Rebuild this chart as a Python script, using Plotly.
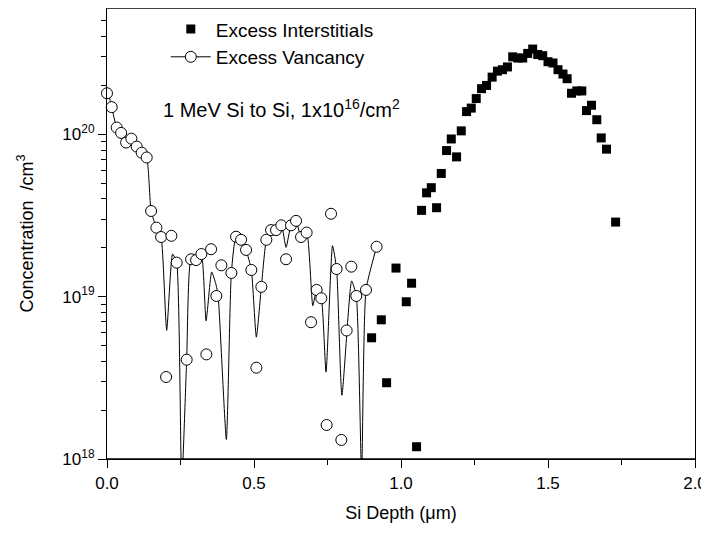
import plotly.graph_objects as go

# Excess vacancy measured points (depth um, concentration cm^-3)
vac_x = [0.000, 0.016, 0.033, 0.048, 0.065, 0.083, 0.101, 0.118, 0.135, 0.150,
         0.168, 0.184, 0.201, 0.219, 0.237, 0.271, 0.286, 0.303, 0.321, 0.338,
         0.354, 0.372, 0.389, 0.423, 0.439, 0.456, 0.473, 0.491, 0.508, 0.525,
         0.542, 0.558, 0.575, 0.593, 0.609, 0.626, 0.643, 0.660, 0.679, 0.694,
         0.713, 0.729, 0.747, 0.762, 0.781, 0.797, 0.815, 0.831, 0.848, 0.881,
         0.917]
vac_y = [1.79e20, 1.47e20, 1.10e20, 1.02e20, 8.9e19, 9.4e19, 8.4e19, 7.7e19, 7.2e19, 3.37e19,
         2.66e19, 2.33e19, 3.2e18, 2.37e19, 1.62e19, 4.09e18, 1.70e19, 1.68e19, 1.83e19, 4.41e18,
         1.96e19, 1.01e19, 1.56e19, 1.40e19, 2.34e19, 2.24e19, 1.94e19, 1.46e19, 3.65e18, 1.15e19,
         2.24e19, 2.57e19, 2.57e19, 2.75e19, 1.70e19, 2.75e19, 2.93e19, 2.33e19, 2.48e19, 6.96e18,
         1.10e19, 9.77e18, 1.62e18, 3.24e19, 1.48e19, 1.31e18, 6.19e18, 1.53e19, 1.01e19, 1.10e19,
         2.03e19]

# Excess vacancy fitted curve
fit_x = [0.000, 0.016, 0.033, 0.048, 0.065, 0.083, 0.101, 0.118, 0.135, 0.150,
         0.168, 0.184, 0.203, 0.223, 0.237, 0.254, 0.271, 0.286, 0.303, 0.321,
         0.337, 0.356, 0.370, 0.378, 0.406, 0.423, 0.439, 0.456, 0.473, 0.491,
         0.508, 0.525, 0.542, 0.558, 0.575, 0.593, 0.609, 0.626, 0.643, 0.660,
         0.679, 0.700, 0.713, 0.729, 0.745, 0.767, 0.781, 0.799, 0.832, 0.848,
         0.866, 0.881, 0.917]
fit_y = [1.95e20, 1.47e20, 1.10e20, 1.02e20, 8.9e19, 9.4e19, 8.4e19, 7.7e19, 7.2e19, 3.37e19,
         2.66e19, 2.33e19, 6.2e18, 1.83e19, 1.62e19, 7.0e17, 4.09e18, 1.70e19, 1.68e19, 1.83e19,
         7.1e18, 1.42e19, 1.2e19, 1.01e19, 1.32e18, 1.40e19, 2.34e19, 2.24e19, 1.94e19, 1.46e19,
         5.63e18, 1.15e19, 2.24e19, 2.57e19, 2.57e19, 2.75e19, 2.01e19, 2.75e19, 2.93e19, 2.33e19,
         2.48e19, 8.8e18, 1.10e19, 9.77e18, 3.43e18, 2.06e19, 1.48e19, 2.47e18, 1.25e19, 1.01e19,
         8.0e17, 1.10e19, 2.03e19]

# Excess interstitials
int_x = [0.900, 0.933, 0.951, 0.983, 1.018, 1.036, 1.053, 1.070, 1.087, 1.103,
         1.121, 1.137, 1.155, 1.171, 1.189, 1.205, 1.223, 1.239, 1.256, 1.274,
         1.291, 1.310, 1.328, 1.345, 1.362, 1.380, 1.397, 1.414, 1.431, 1.448,
         1.465, 1.482, 1.500, 1.517, 1.534, 1.551, 1.565, 1.580, 1.598, 1.615,
         1.631, 1.648, 1.666, 1.681, 1.699, 1.730]
int_y = [5.58e18, 7.2e18, 2.95e18, 1.5e19, 9.3e18, 1.21e19, 1.19e18, 3.40e19, 4.36e19, 4.69e19,
         3.53e19, 5.74e19, 7.94e19, 9.36e19, 7.26e19, 1.05e20, 1.38e20, 1.45e20, 1.66e20, 1.91e20,
         2.0e20, 2.25e20, 2.45e20, 2.5e20, 2.6e20, 3.0e20, 2.95e20, 2.95e20, 3.15e20, 3.35e20,
         3.1e20, 3.05e20, 2.8e20, 2.75e20, 2.5e20, 2.35e20, 2.2e20, 1.79e20, 1.85e20, 1.85e20,
         1.40e20, 1.51e20, 1.23e20, 9.5e19, 8.1e19, 2.88e19]

x_ticks = [0.0, 0.5, 1.0, 1.5, 2.0]
x_ticklabels = ["0.0", "0.5", "1.0", "1.5", "2.0"]
y_ticks = [1e18, 1e19, 1e20]
y_ticklabels = ["10<sup>18</sup>", "10<sup>19</sup>", "10<sup>20</sup>"]

FONT = "Liberation Sans, Arial, sans-serif"

fig = go.Figure()

# fitted curve (no legend)
fig.add_trace(go.Scatter(x=fit_x, y=fit_y, mode="lines",
                         line=dict(color="black", width=1, shape="spline", smoothing=0.5),
                         showlegend=False, hoverinfo="skip"))
# vacancy points (no legend)
fig.add_trace(go.Scatter(x=vac_x, y=vac_y, mode="markers",
                         marker=dict(symbol="circle", size=11, color="white",
                                     line=dict(color="black", width=1)),
                         showlegend=False, cliponaxis=False))
# interstitials
fig.add_trace(go.Scatter(x=int_x, y=int_y, mode="markers", name="Excess Interstitials",
                         marker=dict(symbol="square", size=9, color="black",
                                     line=dict(color="black", width=0))))
# legend entry for vacancy (line + circle)
fig.add_trace(go.Scatter(x=[None], y=[None], mode="lines+markers", name="Excess Vancancy",
                         line=dict(color="black", width=1),
                         marker=dict(symbol="circle", size=11, color="white",
                                     line=dict(color="black", width=1))))

minor_y = [float(m) * 10.0 ** e for e in (18, 19, 20) for m in range(2, 10) if m * 10.0 ** e <= 6e20]
minor_x = [0.25, 0.75, 1.25, 1.75]

fig.add_annotation(x=0.0925, y=0.778, xref="paper", yref="paper", xanchor="left", yanchor="middle",
                   text="1 MeV Si to Si, 1x10<sup>16</sup>/cm<sup>2</sup>", showarrow=False,
                   font=dict(family=FONT, size=20, color="black"))

# plot frame (top and bottom edges)
for yy in (0, 1):
    fig.add_shape(type="line", xref="paper", yref="paper", x0=0, x1=1, y0=yy, y1=yy,
                  line=dict(color="black", width=1.5), layer="above")

fig.update_layout(
    width=701, height=517,
    margin=dict(l=99, r=14, t=0, b=66),
    paper_bgcolor="white", plot_bgcolor="white",
    font=dict(family=FONT, size=17, color="black"),
    showlegend=True,
    legend=dict(x=0.1, y=0.995, xanchor="left", yanchor="top",
                bgcolor="rgba(0,0,0,0)", font=dict(family=FONT, size=19, color="black"),
                traceorder="normal", itemwidth=40),
    xaxis=dict(range=[0, 2.0], showline=True, linecolor="black", linewidth=1.2, mirror=True,
               ticks="outside", ticklen=8, tickcolor="black", tickwidth=1,
               tickvals=x_ticks, ticktext=x_ticklabels, showgrid=False, zeroline=False,
               tickfont=dict(family=FONT, size=17),
               minor=dict(ticks="outside", ticklen=5, tickcolor="black", tickvals=minor_x,
                          showgrid=False),
               title=dict(text="Si Depth (\u03bcm)", font=dict(family=FONT, size=18), standoff=14)),
    yaxis=dict(type="log", range=[18, 20.778], showline=True, linecolor="black", linewidth=1.2,
               mirror=True, ticks="outside", ticklen=8, tickcolor="black", tickwidth=1,
               tickvals=y_ticks, ticktext=y_ticklabels, showgrid=False, zeroline=False,
               tickfont=dict(family=FONT, size=17),
               minor=dict(ticks="outside", ticklen=5, tickcolor="black", tickvals=minor_y,
                          showgrid=False),
               title=dict(text="Concentration  /cm<sup>3</sup>", font=dict(family=FONT, size=18),
                          standoff=24)),
)

fig.write_html("out.html")
